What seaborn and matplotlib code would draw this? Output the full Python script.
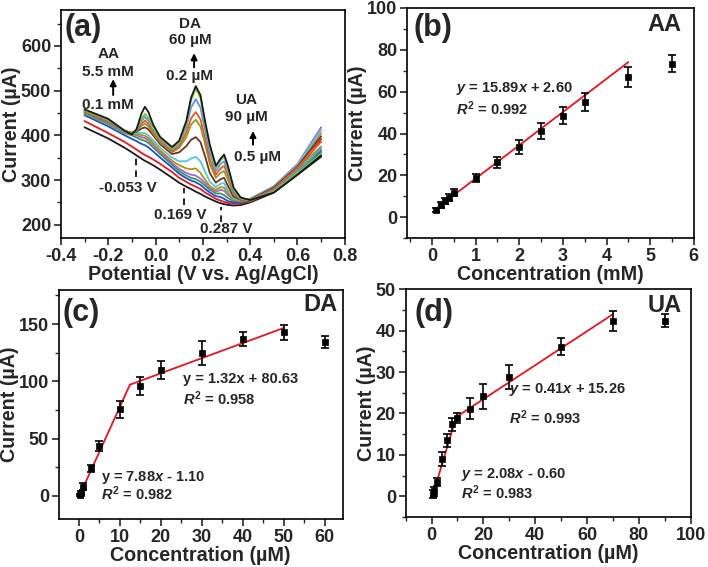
import numpy as np
import pandas as pd
import seaborn as sns
import matplotlib.pyplot as plt
from matplotlib.ticker import MultipleLocator

sns.set_style("ticks")
plt.rcParams['font.family'] = ['Liberation Sans', 'DejaVu Sans']
plt.rcParams['font.weight'] = 'bold'
plt.rcParams['axes.labelweight'] = 'bold'
plt.rcParams['mathtext.fontset'] = 'custom'
plt.rcParams['mathtext.rm'] = 'Liberation Sans:bold'
plt.rcParams['mathtext.it'] = 'Liberation Sans:italic:bold'
plt.rcParams['mathtext.bf'] = 'Liberation Sans:bold'

# ---- (a) DPV curves, current (uA) read at these potentials (V) ----
potential = [-0.30, -0.20, -0.13, -0.10, -0.08, -0.06, -0.045, -0.03, -0.01, 0.02,
             0.07, 0.10, 0.13, 0.15, 0.17, 0.19, 0.21, 0.23, 0.255, 0.275,
             0.29, 0.305, 0.33, 0.36, 0.40, 0.50, 0.60, 0.70]
dpv_black0 = [418, 393, 372, 362, 355, 348, 343, 339, 333, 323,
              305, 294, 285, 280, 274, 269, 263, 258, 252, 248,
              246, 244.5, 243, 244, 250, 272, 312, 352]
dpv_red = [432, 405, 385, 375, 368, 361, 356, 352, 346, 336,
           318, 305, 296, 290, 285, 280, 272, 266, 258, 254,
           251, 249, 247, 248, 252, 276, 320, 392]
dpv_blue = [445, 420, 400, 392, 387, 381, 378, 373, 364, 350,
            328, 314, 304, 299, 295, 289, 280, 272, 264, 262,
            258, 253, 250, 250, 254, 277, 318, 366]
dpv_green = [448, 425, 405, 400, 395, 390, 388, 383, 373, 358,
             334, 320, 310, 305, 302, 296, 287, 278, 270, 270,
             266, 260, 253, 252, 255, 278, 320, 362]
dpv_purple = [449, 427, 407, 403, 400, 396, 394, 389, 378, 362,
              338, 325, 316, 312, 310, 303, 293, 282, 274, 278,
              276, 267, 256, 253, 258, 286, 336, 418]
dpv_gold = [450, 428, 408, 404, 403, 401, 399, 394, 383, 366,
            343, 333, 326, 324, 326, 316, 300, 286, 278, 284,
            283, 272, 257, 254, 257, 284, 332, 405]
dpv_cyan = [451, 429, 409, 405, 405, 406, 405, 400, 389, 372,
            350, 342, 342, 348, 352, 342, 318, 296, 284, 292,
            293, 278, 259, 255, 257, 285, 334, 412]
dpv_brown = [452, 430, 410, 406, 408, 415, 418, 413, 400, 380,
             358, 362, 376, 390, 396, 385, 352, 315, 294, 302,
             305, 288, 263, 256, 256, 283, 330, 398]
dpv_olive = [453, 431, 410, 406, 410, 421, 426, 420, 404, 384,
             362, 372, 396, 424, 435, 420, 380, 335, 305, 316,
             320, 302, 268, 257, 255, 280, 326, 375]
dpv_orange = [454, 432, 410, 405, 411, 426, 433, 426, 408, 386,
              364, 376, 406, 438, 452, 436, 392, 345, 312, 326,
              332, 312, 272, 258, 254, 279, 328, 386]
dpv_lightblue = [455, 434, 410, 404, 412, 432, 441, 433, 413, 390,
                 368, 381, 418, 462, 481, 462, 410, 360, 320, 336,
                 342, 320, 276, 259, 254, 276, 320, 370]
dpv_lime = [456, 435, 410, 403, 413, 437, 448, 439, 417, 392,
            371, 384, 426, 478, 505, 483, 425, 372, 328, 344,
            352, 328, 280, 260, 254, 274, 316, 358]
dpv_black1 = [458, 437, 410, 402, 414, 448, 464, 452, 424, 396,
              374, 388, 432, 484, 510, 490, 430, 378, 332, 348,
              357, 334, 283, 261, 255, 272, 312, 355]

dpv_series = [dpv_black0, dpv_red, dpv_blue, dpv_green, dpv_purple, dpv_gold, dpv_cyan,
              dpv_brown, dpv_olive, dpv_orange, dpv_lightblue, dpv_lime, dpv_black1]
dpv_colors = ['#1a1a1a', '#e8181c', '#1f4fd8', '#3e9a3e', '#a463e0', '#b8900c', '#52c7d8',
              '#6b3524', '#8c9a2a', '#f0561a', '#5c95e6', '#7cc233', '#1a1a1a']

# ---- (b) AA calibration ----
aa_conc = [0.1, 0.2, 0.3, 0.4, 0.5, 1.0, 1.5, 2.0, 2.5, 3.0, 3.5, 4.5, 5.5]
aa_current = [3.5, 6.0, 7.8, 9.4, 11.8, 18.8, 26.2, 33.5, 41.2, 48.5, 55.0, 67.0, 73.3]
aa_err = [1.0, 1.4, 1.5, 1.5, 1.5, 2.0, 2.5, 3.2, 3.7, 4.0, 4.2, 4.9, 4.0]

# ---- (c) DA calibration ----
da_conc = [0.2, 0.5, 1, 3, 5, 10, 15, 20, 30, 40, 50, 60]
da_current = [1.0, 2.5, 8.0, 24.0, 43.5, 75.5, 96.0, 110.0, 124.5, 137.0, 143.0, 134.5]
da_err = [1.0, 1.5, 3.0, 3.4, 4.6, 7.7, 8.0, 7.9, 10.5, 5.8, 6.5, 5.5]

# ---- (d) UA calibration ----
ua_conc = [0.5, 1, 2, 4, 6, 8, 10, 15, 20, 30, 50, 70, 90]
ua_current = [0.6, 1.2, 3.4, 9.1, 13.5, 17.4, 18.9, 21.2, 24.2, 28.8, 36.1, 42.3, 42.4]
ua_err = [1.0, 1.0, 1.0, 1.7, 1.5, 1.6, 1.2, 2.6, 3.0, 3.0, 2.0, 2.4, 1.5]

# linear fits (slope, intercept, x range)
aa_fit = [(15.89, 2.60, 0.1, 4.5)]
da_fit = [(7.88, -1.10, 0.2, 12.46), (1.32, 80.63, 12.46, 50)]
ua_fit = [(2.08, -0.60, 0.5, 9.5), (0.41, 15.26, 9.5, 70)]

fig = plt.figure(figsize=(7.08, 5.67), dpi=100)
ax_a = fig.add_axes([0.086, 0.580, 0.401, 0.402])
ax_b = fig.add_axes([0.575, 0.580, 0.405, 0.406])
ax_c = fig.add_axes([0.083, 0.085, 0.401, 0.404])
ax_d = fig.add_axes([0.573, 0.088, 0.4025, 0.402])

TICK_FS = 13
LABEL_FS = 14.2


def style_axes(ax, xmaj, xmin, ymaj, ymin):
    for s in ax.spines.values():
        s.set_visible(True)
        s.set_linewidth(1.2)
        s.set_color('black')
    ax.xaxis.set_major_locator(MultipleLocator(xmaj))
    ax.xaxis.set_minor_locator(MultipleLocator(xmin))
    ax.yaxis.set_major_locator(MultipleLocator(ymaj))
    ax.yaxis.set_minor_locator(MultipleLocator(ymin))
    ax.tick_params(which='major', direction='out', length=5, width=1.2,
                   labelsize=TICK_FS, top=False, right=False, pad=2)
    ax.tick_params(which='minor', direction='out', length=3, width=1.0,
                   top=False, right=False)
    for lab in ax.get_xticklabels() + ax.get_yticklabels():
        lab.set_fontweight('bold')


# (a)
for vals, col in zip(dpv_series, dpv_colors):
    sns.lineplot(x=potential, y=vals, color=col, lw=1.3, ax=ax_a, estimator=None)
ax_a.set_xlim(-0.4, 0.8)
ax_a.set_ylim(170, 680)
style_axes(ax_a, 0.2, 0.1, 100, 50)
ax_a.xaxis.set_major_formatter(plt.FuncFormatter(lambda v, p: f"{v:.1f}"))
ax_a.set_xlabel("Potential (V vs. Ag/AgCl)", fontsize=LABEL_FS, labelpad=0)
ax_a.set_ylabel("Current (\u00b5A)", fontsize=LABEL_FS, labelpad=0)
ax_a.text(0.012, 0.92, "(a)", transform=ax_a.transAxes, fontsize=22, va='center', ha='left')

ann = dict(fontsize=11, ha='center', va='center')
ax_a.text(-0.20, 582, "AA", **ann)
ax_a.text(-0.20, 542, "5.5 mM", **ann)
ax_a.text(-0.20, 467, "0.1 mM", **ann)
ax_a.annotate("", xy=(-0.179, 532), xytext=(-0.179, 484),
              arrowprops=dict(arrowstyle='-|>', color='black', lw=1.4, mutation_scale=9))
ax_a.text(0.145, 649, "DA", **ann)
ax_a.text(0.145, 613, "60 \u00b5M", **ann)
ax_a.text(0.145, 533, "0.2 \u00b5M", **ann)
ax_a.annotate("", xy=(0.163, 590), xytext=(0.163, 546),
              arrowprops=dict(arrowstyle='-|>', color='black', lw=1.4, mutation_scale=9))
ax_a.text(0.385, 478, "UA", **ann)
ax_a.text(0.385, 442, "90 \u00b5M", **ann)
ax_a.text(0.43, 352, "0.5 \u00b5M", **ann)
ax_a.annotate("", xy=(0.412, 416), xytext=(0.412, 373),
              arrowprops=dict(arrowstyle='-|>', color='black', lw=1.4, mutation_scale=9))

for xv, y0, y1 in [(-0.084, 307, 349), (0.121, 244, 282), (0.277, 207, 240)]:
    ax_a.plot([xv, xv], [y0, y1], color='black', lw=1.2, ls=(0, (4, 3)))
ax_a.text(-0.117, 282, "-0.053 V", **ann)
ax_a.text(0.103, 222, "0.169 V", **ann)
ax_a.text(0.297, 190, "0.287 V", **ann)


def calib(ax, conc, cur, err, fits):
    for m, b, x0, x1 in fits:
        xs = np.array([x0, x1])
        sns.lineplot(x=xs, y=m * xs + b, color='#e8141c', lw=1.3, ax=ax, estimator=None)
    ax.errorbar(conc, cur, yerr=err, fmt='none', ecolor='black', elinewidth=1.2,
                capsize=3, capthick=1.2, zorder=3)
    sns.scatterplot(x=conc, y=cur, marker='s', color='black', s=14,
                    edgecolor='black', linewidth=0.5, ax=ax, zorder=4)


eq = dict(fontsize=10.5, ha='left', va='center')

# (b)
calib(ax_b, aa_conc, aa_current, aa_err, aa_fit)
ax_b.set_xlim(-0.57, 6)
ax_b.set_ylim(-10, 100)
style_axes(ax_b, 1, 0.5, 20, 10)
ax_b.set_xlabel("Concentration (mM)", fontsize=LABEL_FS, labelpad=0)
ax_b.set_ylabel("Current (\u00b5A)", fontsize=LABEL_FS, labelpad=0)
ax_b.text(0.022, 0.913, "(b)", transform=ax_b.transAxes, fontsize=22, va='center', ha='left')
ax_b.text(0.958, 0.926, "AA", transform=ax_b.transAxes, fontsize=17, va='center', ha='right')
ax_b.text(0.54, 61.5, "$y$ = 15.89$x$ + 2.60", **eq)
ax_b.text(0.54, 52.0, "$R^2$ = 0.992", **eq)

# (c)
calib(ax_c, da_conc, da_current, da_err, da_fit)
ax_c.set_xlim(-4.9, 64.4)
ax_c.set_ylim(-20, 180)
style_axes(ax_c, 10, 5, 50, 25)
ax_c.set_xlabel("Concentration (\u00b5M)", fontsize=LABEL_FS, labelpad=0)
ax_c.set_ylabel("Current (\u00b5A)", fontsize=LABEL_FS, labelpad=0)
ax_c.text(0.012, 0.90, "(c)", transform=ax_c.transAxes, fontsize=22, va='center', ha='left')
ax_c.text(0.982, 0.934, "DA", transform=ax_c.transAxes, fontsize=17, va='center', ha='right')
ax_c.text(25.4, 102, "y = 1.32x + 80.63", **eq)
ax_c.text(25.4, 84.5, "$R^2$ = 0.958", **eq)
ax_c.text(5.5, 16, "y = 7.88$x$ - 1.10", **eq)
ax_c.text(5.5, 1.5, "$R^2$ = 0.982", **eq)

# (d)
calib(ax_d, ua_conc, ua_current, ua_err, ua_fit)
ax_d.set_xlim(-10, 100)
ax_d.set_ylim(-5, 50)
style_axes(ax_d, 20, 10, 10, 5)
ax_d.set_xlabel("Concentration (\u00b5M)", fontsize=LABEL_FS, labelpad=0)
ax_d.set_ylabel("Current (\u00b5A)", fontsize=LABEL_FS, labelpad=0)
ax_d.text(0.032, 0.895, "(d)", transform=ax_d.transAxes, fontsize=22, va='center', ha='left')
ax_d.text(0.968, 0.93, "UA", transform=ax_d.transAxes, fontsize=17, va='center', ha='right')
ax_d.text(29.7, 25.8, "$y$ = 0.41$x$ + 15.26", **eq)
ax_d.text(29.7, 19.0, "$R^2$ = 0.993", **eq)
ax_d.text(11.3, 5.3, "$y$ = 2.08$x$ - 0.60", **eq)
ax_d.text(11.3, 0.8, "$R^2$ = 0.983", **eq)

fig.savefig("out.png", dpi=100)
